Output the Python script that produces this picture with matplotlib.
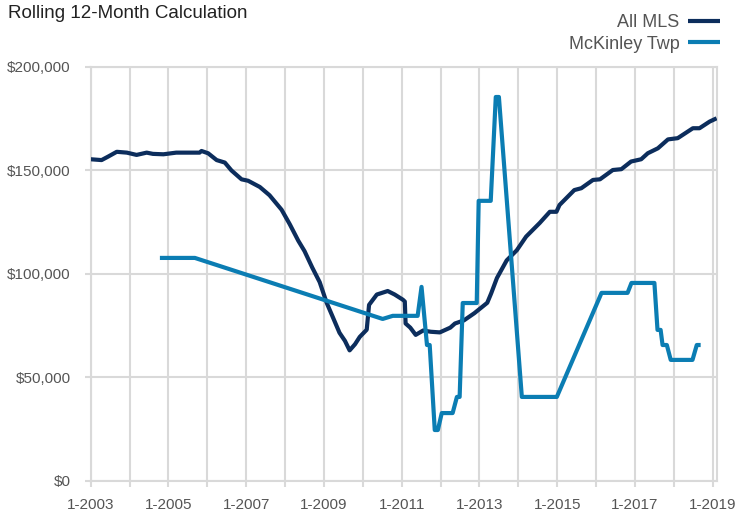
import matplotlib
matplotlib.use("Agg")
import matplotlib.pyplot as plt
from matplotlib.ticker import FuncFormatter, MultipleLocator

plt.rcParams['font.family'] = ['Liberation Sans Narrow', 'Liberation Sans', 'DejaVu Sans']

# ---- data (decimal years, values in $) ----
all_mls_years = [2003.0, 2003.28, 2003.45, 2003.67, 2003.93, 2004.18, 2004.44, 2004.6, 2004.87,
                 2005.2, 2005.5, 2005.8, 2005.85, 2006.02, 2006.24, 2006.45, 2006.62, 2006.88,
                 2007.05, 2007.35, 2007.6, 2007.91, 2008.12, 2008.34, 2008.5, 2008.7, 2008.89,
                 2009.07, 2009.23, 2009.4, 2009.54, 2009.66, 2009.8, 2009.92, 2010.1, 2010.16,
                 2010.36, 2010.64, 2010.82, 2011.03, 2011.08, 2011.1, 2011.22, 2011.36, 2011.55,
                 2011.75, 2011.98, 2012.25, 2012.37, 2012.6, 2012.87, 2013.2, 2013.3, 2013.45,
                 2013.7, 2013.96, 2014.2, 2014.55, 2014.81, 2014.98, 2015.06, 2015.44, 2015.62,
                 2015.92, 2016.1, 2016.43, 2016.65, 2016.9, 2017.16, 2017.33, 2017.59, 2017.85,
                 2018.1, 2018.49, 2018.66, 2018.92, 2019.1]
all_mls_values = [155400, 155000, 156700, 159000, 158600, 157500, 158600, 158000, 157800,
                  158600, 158600, 158600, 159400, 158300, 155000, 153800, 150000, 145700,
                  145000, 142000, 138000, 131000, 124000, 116000, 111000, 103000, 96000,
                  86000, 79000, 71500, 67600, 63000, 66000, 69500, 73000, 85000,
                  90000, 91700, 90000, 87500, 86600, 76000, 74000, 70500, 72600,
                  72000, 71700, 74000, 76000, 77500, 81000, 86000, 90500, 98000,
                  106500, 111400, 118000, 124600, 130000, 130000, 133300, 140500, 141400,
                  145400, 145700, 150200, 150600, 154300, 155400, 158300, 160700, 165000,
                  165600, 170400, 170400, 173600, 175200]

mckinley_years = [2004.78, 2005.68, 2010.51, 2010.77, 2011.41, 2011.51, 2011.65, 2011.72,
                  2011.85, 2011.93, 2012.03, 2012.31, 2012.42, 2012.49, 2012.57, 2012.93,
                  2012.98, 2013.29, 2013.42, 2013.5, 2014.09, 2014.99, 2016.14, 2016.81,
                  2016.91, 2017.5, 2017.58, 2017.66, 2017.71, 2017.82, 2017.92, 2018.48,
                  2018.59, 2018.69]
mckinley_values = [107700, 107700, 78200, 79700, 79700, 93700, 65600, 65600,
                   24500, 24500, 32700, 32700, 40500, 40500, 85900, 85900,
                   135300, 135300, 185500, 185500, 40500, 40500, 90800, 90800,
                   95600, 95600, 72900, 72900, 65600, 65600, 58400, 58400,
                   65600, 65600]

series_names = ["All MLS", "McKinley Twp"]
title_text = "Rolling 12-Month Calculation"
xtick_years = list(range(2003, 2020, 2))
ytick_values = [0, 50000, 100000, 150000, 200000]

# ---- styling ----
dark = '#0c2d5c'
light = '#0b7db3'
grid_c = '#d9d9d9'
text_c = '#555555'

fig = plt.figure(figsize=(7.38, 5.15), dpi=100)
ax = fig.add_axes([90.7/738, 1-480.7/515, (716.6-90.7)/738, (480.7-67)/515])

ax.plot(all_mls_years, all_mls_values, color=dark, lw=3, label=series_names[0],
        solid_joinstyle='round', solid_capstyle='butt', zorder=3)
ax.plot(mckinley_years, mckinley_values, color=light, lw=3, label=series_names[1],
        solid_joinstyle='round', solid_capstyle='butt', zorder=4)

ax.set_xlim(2003, 2019.1)
ax.set_ylim(0, 200000)
ax.set_xticks(xtick_years)
ax.set_xticklabels([f"1-{y}" for y in xtick_years])
ax.xaxis.set_minor_locator(MultipleLocator(1))
ax.set_yticks(ytick_values)
ax.yaxis.set_major_formatter(FuncFormatter(lambda v, p: f"${int(v):,}"))

ax.grid(True, which='both', axis='x', color=grid_c, lw=1.5, zorder=0)
ax.grid(True, which='major', axis='y', color=grid_c, lw=1.5, zorder=0)
for s in ax.spines.values():
    s.set_color(grid_c)
    s.set_linewidth(1.5)
ax.tick_params(axis='x', which='both', length=4.5, width=1.5, color=grid_c,
               labelsize=11, labelcolor=text_c, pad=8)
ax.tick_params(axis='y', length=4.5, width=1.5, color=grid_c,
               labelsize=11, labelcolor=text_c, pad=10)

fig.text(8/738, 1-14/515, title_text, fontsize=13.5, color='#222222', va='center', ha='left')

leg = ax.legend(loc='upper right', bbox_to_anchor=(720/738, 1-14/515),
                bbox_transform=fig.transFigure, frameon=False, markerfirst=False,
                fontsize=13, labelcolor=text_c, handlelength=1.75, handletextpad=0.5,
                labelspacing=0.25, borderpad=0, borderaxespad=0)

fig.savefig("out.png", dpi=100)
